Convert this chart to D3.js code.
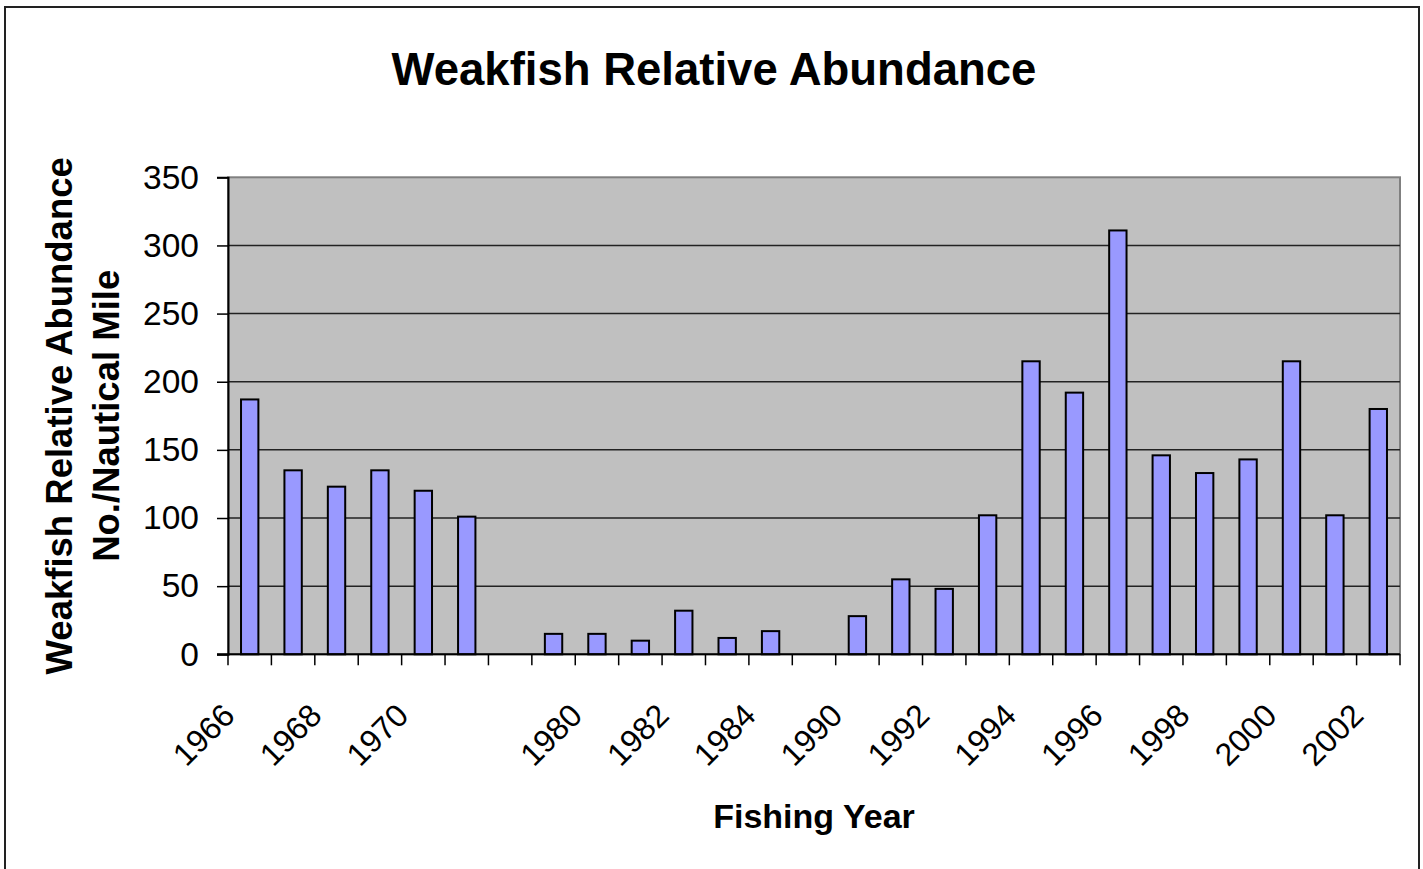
<!DOCTYPE html>
<html>
<head>
<meta charset="utf-8">
<script src="https://cdn.jsdelivr.net/npm/d3@7"></script>
<style>
  body { margin: 0; background: #fff; }
  text { font-family: "Liberation Sans", Arial, sans-serif; }
</style>
</head>
<body>
<svg id="chart" width="1423" height="869"></svg>
<script>
// data; blank labels are the gaps in the series
const years = ["1966","1967","1968","1969","1970","1971","","1979","1980","1981","1982","1983","1984","",
  "1990","1991","1992","1993","1994","1995","1996","1997","1998","1999","2000","2001","2002"];
const abundance = [187,135,123,135,120,101,null,15,15,10,32,12,17,null,
  28,55,48,102,215,192,311,146,133,143,215,102,180];
const yTicks = [0,50,100,150,200,250,300,350];

const W = 1423, H = 869;
const plot = {left: 228, top: 177.3, right: 1400, bottom: 654.3};

const svg = d3.select('#chart');

// outer chart frame
svg.append('rect')
  .attr('x',5).attr('y',7).attr('width',1414).attr('height',880)
  .attr('fill','#fff').attr('stroke','#222').attr('stroke-width',2);

// scales: excel style gap width 150% -> band is step/2.5
const x = d3.scaleBand()
  .domain(d3.range(years.length))
  .range([plot.left, plot.right])
  .paddingInner(0.6).paddingOuter(0.3);
const y = d3.scaleLinear().domain([0,350]).range([plot.bottom, plot.top]);
const step = x.step();
const slotLeft = i => plot.left + i*step;

// plot background
svg.append('rect')
  .attr('x',plot.left).attr('y',plot.top)
  .attr('width',plot.right-plot.left).attr('height',plot.bottom-plot.top)
  .attr('fill','#c0c0c0').attr('stroke','#808080').attr('stroke-width',2);

// gridlines
svg.append('g').selectAll('line').data(yTicks.filter(d=>d>0 && d<350)).enter().append('line')
  .attr('x1',plot.left).attr('x2',plot.right)
  .attr('y1',d=>y(d)).attr('y2',d=>y(d))
  .attr('stroke','#222').attr('stroke-width',1.5);

// bars
svg.append('g').selectAll('rect')
  .data(abundance.map((v,i)=>({i:i,v:v})).filter(d=>d.v!==null))
  .enter().append('rect')
  .attr('x',d=>x(d.i)).attr('width',x.bandwidth())
  .attr('y',d=>y(d.v)).attr('height',d=>y(0)-y(d.v))
  .attr('fill','#9999ff').attr('stroke','#000').attr('stroke-width',2);

// y axis
const yAxis = d3.axisLeft(y).tickValues(yTicks).tickSize(11).tickPadding(18);
const yg = svg.append('g').attr('transform','translate('+plot.left+',0)').call(yAxis);
yg.select('.domain').attr('stroke','#000').attr('stroke-width',2);
yg.selectAll('.tick line').attr('stroke','#000').attr('stroke-width',1.5);
yg.selectAll('.tick text').attr('font-size',33.5).attr('fill','#000')
  .attr('font-family','"Liberation Sans", Arial, sans-serif');

// x axis line and ticks between categories
svg.append('line')
  .attr('x1',plot.left-11).attr('x2',plot.right)
  .attr('y1',plot.bottom).attr('y2',plot.bottom)
  .attr('stroke','#000').attr('stroke-width',2);
svg.append('g').selectAll('line').data(d3.range(years.length+1)).enter().append('line')
  .attr('x1',d=>slotLeft(d)).attr('x2',d=>slotLeft(d))
  .attr('y1',plot.bottom).attr('y2',plot.bottom+11)
  .attr('stroke','#000').attr('stroke-width',1.5);

// category labels, every other one like excel
svg.append('g').selectAll('text')
  .data(years.map((t,i)=>({i:i,t:t})).filter(d=>d.i%2===0 && d.t!==''))
  .enter().append('text')
  .attr('transform',d=>'translate('+(x(d.i)+x.bandwidth()/2-13)+','+(plot.bottom+63)+') rotate(-45)')
  .attr('text-anchor','end').attr('font-size',32).attr('fill','#000')
  .text(d=>d.t);

// titles
svg.append('text').attr('x',714).attr('y',85)
  .attr('text-anchor','middle').attr('font-size',45.5).attr('font-weight','bold')
  .text('Weakfish Relative Abundance');
svg.append('text').attr('x',(plot.left+plot.right)/2).attr('y',828)
  .attr('text-anchor','middle').attr('font-size',34).attr('font-weight','bold')
  .text('Fishing Year');
const yt = svg.append('text')
  .attr('transform','translate(0,'+((plot.top+plot.bottom)/2)+') rotate(-90)')
  .attr('text-anchor','middle').attr('font-size',36.5).attr('font-weight','bold');
yt.append('tspan').attr('x',0).attr('y',72).text('Weakfish Relative Abundance');
yt.append('tspan').attr('x',0).attr('y',119).text('No./Nautical Mile');
</script>
</body>
</html>
